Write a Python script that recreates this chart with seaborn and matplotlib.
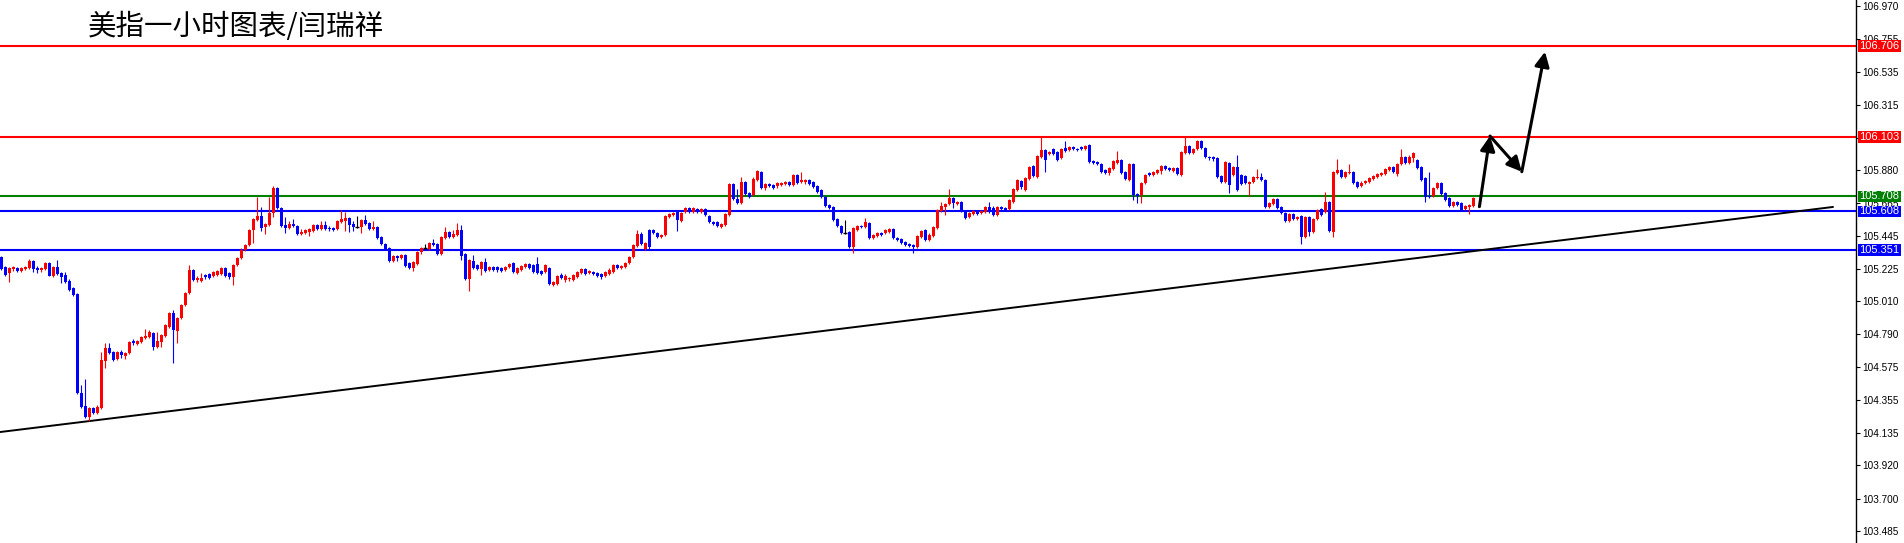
import matplotlib
matplotlib.use("Agg")
import numpy as np
import pandas as pd
import matplotlib.pyplot as plt
import matplotlib.transforms as mtransforms
from matplotlib.patches import Rectangle
import seaborn as sns

# ---- data: US dollar index, 1 hour candles ----
title = "美指一小时图表/闫瑞祥"

opens = [
    105.305, 105.238, 105.198, 105.225, 105.231, 105.212, 105.225, 105.231, 105.278, 105.231,
    105.218, 105.225, 105.265, 105.178, 105.238, 105.198, 105.185, 105.145, 105.099, 105.059,
    104.401, 104.315, 104.242, 104.302, 104.268, 104.302, 104.614, 104.700, 104.674, 104.627,
    104.674, 104.647, 104.667, 104.747, 104.727, 104.740, 104.767, 104.773, 104.800, 104.707,
    104.740, 104.780, 104.840, 104.933, 104.813, 104.899, 104.986, 105.066, 105.218, 105.152,
    105.145, 105.185, 105.192, 105.178, 105.185, 105.192, 105.231, 105.198, 105.172, 105.251,
    105.298, 105.351, 105.384, 105.484, 105.550, 105.577, 105.504, 105.517, 105.597, 105.763,
    105.630, 105.517, 105.497, 105.524, 105.511, 105.457, 105.464, 105.471, 105.477, 105.517,
    105.491, 105.517, 105.497, 105.497, 105.491, 105.537, 105.544, 105.564, 105.524, 105.504,
    105.504, 105.550, 105.531, 105.491, 105.504, 105.438, 105.391, 105.364, 105.278, 105.311,
    105.298, 105.318, 105.265, 105.231, 105.258, 105.338, 105.364, 105.358, 105.398, 105.391,
    105.325, 105.431, 105.471, 105.438, 105.451, 105.484, 105.325, 105.158, 105.278, 105.251,
    105.225, 105.271, 105.218, 105.238, 105.238, 105.231, 105.218, 105.238, 105.265, 105.198,
    105.218, 105.238, 105.258, 105.251, 105.258, 105.212, 105.205, 105.231, 105.119, 105.125,
    105.185, 105.152, 105.158, 105.152, 105.172, 105.198, 105.225, 105.198, 105.205, 105.198,
    105.192, 105.178, 105.192, 105.205, 105.251, 105.231, 105.238, 105.265, 105.305, 105.378,
    105.457, 105.358, 105.484, 105.484, 105.464, 105.438, 105.451, 105.570, 105.584, 105.604,
    105.544, 105.604, 105.630, 105.604, 105.623, 105.604, 105.623, 105.577, 105.537, 105.537,
    105.504, 105.517, 105.584, 105.789, 105.690, 105.663, 105.803, 105.730, 105.716, 105.816,
    105.869, 105.763, 105.789, 105.783, 105.776, 105.783, 105.789, 105.803, 105.783, 105.849,
    105.803, 105.803, 105.816, 105.803, 105.776, 105.750, 105.703, 105.650, 105.637, 105.557,
    105.511, 105.464, 105.471, 105.371, 105.484, 105.511, 105.504, 105.531, 105.431, 105.444,
    105.464, 105.464, 105.471, 105.491, 105.431, 105.424, 105.404, 105.391, 105.384, 105.371,
    105.438, 105.484, 105.418, 105.444, 105.497, 105.610, 105.637, 105.657, 105.696, 105.657,
    105.670, 105.610, 105.570, 105.590, 105.604, 105.597, 105.604, 105.637, 105.630, 105.584,
    105.637, 105.630, 105.623, 105.670, 105.750, 105.809, 105.750, 105.823, 105.909, 105.836,
    105.969, 106.015, 105.989, 106.022, 106.002, 105.962, 106.029, 106.015, 106.035, 106.022,
    106.035, 106.022, 106.049, 105.942, 105.936, 105.922, 105.883, 105.863, 105.889, 105.929,
    105.949, 105.869, 105.816, 105.922, 105.723, 105.716, 105.796, 105.863, 105.849, 105.863,
    105.876, 105.909, 105.896, 105.876, 105.896, 105.849, 105.995, 106.042, 105.995, 106.022,
    106.075, 106.029, 105.969, 105.969, 105.962, 105.843, 105.803, 105.929, 105.849, 105.902,
    105.849, 105.843, 105.789, 105.803, 105.830, 105.836, 105.816, 105.637, 105.657, 105.690,
    105.637, 105.597, 105.544, 105.590, 105.557, 105.577, 105.438, 105.570, 105.471, 105.557,
    105.623, 105.604, 105.670, 105.471, 105.863, 105.883, 105.836, 105.863, 105.869, 105.803,
    105.776, 105.796, 105.803, 105.823, 105.836, 105.849, 105.856, 105.883, 105.902, 105.856,
    105.922, 105.969, 105.929, 105.962, 105.949, 105.902, 105.830, 105.710, 105.710, 105.763,
    105.796, 105.730, 105.696, 105.643, 105.670, 105.663, 105.623, 105.637, 105.643,
]

highs = [
    105.311, 105.245, 105.238, 105.245, 105.238, 105.238, 105.245, 105.291, 105.285, 105.245,
    105.238, 105.271, 105.271, 105.245, 105.285, 105.205, 105.205, 105.158, 105.105, 105.066,
    104.454, 104.494, 104.308, 104.308, 104.322, 104.674, 104.733, 104.733, 104.680, 104.680,
    104.687, 104.674, 104.747, 104.760, 104.753, 104.780, 104.826, 104.820, 104.806, 104.806,
    104.793, 104.860, 104.939, 104.953, 104.906, 104.992, 105.072, 105.251, 105.225, 105.178,
    105.198, 105.192, 105.198, 105.212, 105.218, 105.238, 105.238, 105.205, 105.258, 105.305,
    105.364, 105.391, 105.491, 105.564, 105.703, 105.637, 105.531, 105.703, 105.776, 105.770,
    105.637, 105.570, 105.544, 105.557, 105.517, 105.491, 105.491, 105.497, 105.524, 105.524,
    105.544, 105.544, 105.511, 105.504, 105.550, 105.617, 105.604, 105.570, 105.544, 105.577,
    105.557, 105.584, 105.537, 105.544, 105.511, 105.444, 105.398, 105.371, 105.318, 105.318,
    105.325, 105.325, 105.271, 105.278, 105.345, 105.371, 105.391, 105.404, 105.424, 105.398,
    105.444, 105.504, 105.477, 105.484, 105.531, 105.517, 105.331, 105.291, 105.318, 105.258,
    105.278, 105.298, 105.245, 105.245, 105.245, 105.238, 105.245, 105.265, 105.271, 105.238,
    105.251, 105.265, 105.265, 105.258, 105.305, 105.218, 105.258, 105.238, 105.145, 105.185,
    105.198, 105.192, 105.172, 105.192, 105.212, 105.231, 105.231, 105.218, 105.212, 105.205,
    105.198, 105.212, 105.231, 105.258, 105.258, 105.251, 105.271, 105.311, 105.391, 105.484,
    105.471, 105.404, 105.491, 105.491, 105.471, 105.457, 105.584, 105.597, 105.604, 105.610,
    105.604, 105.637, 105.637, 105.637, 105.630, 105.630, 105.630, 105.584, 105.544, 105.544,
    105.531, 105.597, 105.796, 105.796, 105.756, 105.836, 105.809, 105.736, 105.836, 105.883,
    105.876, 105.796, 105.796, 105.789, 105.803, 105.803, 105.809, 105.809, 105.856, 105.856,
    105.869, 105.823, 105.823, 105.809, 105.783, 105.756, 105.710, 105.657, 105.643, 105.564,
    105.517, 105.550, 105.477, 105.504, 105.517, 105.517, 105.564, 105.537, 105.457, 105.471,
    105.471, 105.491, 105.497, 105.497, 105.438, 105.431, 105.411, 105.398, 105.391, 105.451,
    105.484, 105.491, 105.464, 105.511, 105.623, 105.670, 105.663, 105.756, 105.703, 105.677,
    105.677, 105.617, 105.604, 105.617, 105.610, 105.617, 105.643, 105.670, 105.643, 105.643,
    105.643, 105.637, 105.690, 105.763, 105.823, 105.816, 105.836, 105.909, 105.916, 105.982,
    106.102, 106.022, 106.009, 106.029, 106.009, 106.029, 106.075, 106.042, 106.042, 106.029,
    106.042, 106.049, 106.055, 105.949, 105.942, 105.929, 105.889, 105.902, 105.949, 106.009,
    105.956, 105.876, 105.929, 105.929, 105.730, 105.803, 105.856, 105.869, 105.876, 105.889,
    105.916, 105.916, 105.902, 105.902, 105.902, 106.009, 106.102, 106.049, 106.029, 106.082,
    106.082, 106.035, 105.975, 105.975, 105.969, 105.849, 105.942, 105.936, 105.909, 105.982,
    105.856, 105.849, 105.809, 105.843, 105.889, 105.863, 105.823, 105.670, 105.696, 105.696,
    105.643, 105.604, 105.597, 105.597, 105.577, 105.584, 105.577, 105.577, 105.564, 105.623,
    105.630, 105.736, 105.677, 105.876, 105.956, 105.889, 105.876, 105.922, 105.876, 105.809,
    105.809, 105.816, 105.836, 105.849, 105.863, 105.869, 105.896, 105.909, 105.909, 105.929,
    106.022, 105.975, 105.982, 106.002, 105.956, 105.909, 105.836, 105.869, 105.770, 105.803,
    105.803, 105.736, 105.703, 105.677, 105.677, 105.670, 105.650, 105.657, 105.703,
]

lows = [
    105.218, 105.178, 105.139, 105.212, 105.205, 105.205, 105.218, 105.225, 105.205, 105.198,
    105.205, 105.218, 105.178, 105.172, 105.185, 105.132, 105.132, 105.079, 105.046, 104.394,
    104.302, 104.235, 104.215, 104.262, 104.262, 104.295, 104.567, 104.660, 104.614, 104.621,
    104.634, 104.627, 104.660, 104.720, 104.720, 104.733, 104.760, 104.767, 104.687, 104.700,
    104.707, 104.773, 104.833, 104.601, 104.733, 104.893, 104.979, 105.059, 105.145, 105.139,
    105.139, 105.158, 105.158, 105.172, 105.178, 105.185, 105.172, 105.158, 105.119, 105.245,
    105.291, 105.345, 105.378, 105.398, 105.544, 105.477, 105.457, 105.511, 105.570, 105.623,
    105.504, 105.464, 105.491, 105.504, 105.451, 105.451, 105.457, 105.444, 105.471, 105.484,
    105.484, 105.484, 105.477, 105.477, 105.484, 105.531, 105.477, 105.471, 105.477, 105.497,
    105.464, 105.517, 105.484, 105.484, 105.424, 105.384, 105.351, 105.271, 105.271, 105.278,
    105.291, 105.238, 105.225, 105.212, 105.251, 105.325, 105.358, 105.351, 105.378, 105.318,
    105.318, 105.424, 105.431, 105.431, 105.444, 105.285, 105.152, 105.079, 105.225, 105.218,
    105.185, 105.205, 105.212, 105.212, 105.205, 105.205, 105.212, 105.231, 105.198, 105.192,
    105.212, 105.231, 105.225, 105.198, 105.192, 105.185, 105.198, 105.119, 105.112, 105.119,
    105.158, 105.139, 105.145, 105.145, 105.165, 105.192, 105.185, 105.192, 105.185, 105.172,
    105.158, 105.172, 105.185, 105.198, 105.225, 105.225, 105.231, 105.258, 105.298, 105.371,
    105.384, 105.351, 105.351, 105.457, 105.431, 105.431, 105.444, 105.564, 105.577, 105.477,
    105.537, 105.597, 105.597, 105.597, 105.597, 105.597, 105.577, 105.531, 105.517, 105.504,
    105.497, 105.511, 105.577, 105.683, 105.657, 105.657, 105.716, 105.696, 105.710, 105.809,
    105.756, 105.750, 105.770, 105.756, 105.763, 105.776, 105.783, 105.776, 105.776, 105.789,
    105.796, 105.789, 105.783, 105.763, 105.730, 105.696, 105.637, 105.623, 105.544, 105.504,
    105.457, 105.457, 105.364, 105.331, 105.477, 105.497, 105.497, 105.424, 105.424, 105.438,
    105.444, 105.457, 105.464, 105.424, 105.411, 105.391, 105.378, 105.371, 105.331, 105.364,
    105.431, 105.411, 105.411, 105.438, 105.491, 105.604, 105.584, 105.650, 105.630, 105.650,
    105.604, 105.557, 105.564, 105.584, 105.584, 105.590, 105.597, 105.597, 105.577, 105.577,
    105.617, 105.610, 105.617, 105.663, 105.743, 105.756, 105.743, 105.816, 105.836, 105.830,
    105.962, 105.869, 105.982, 105.982, 105.942, 105.956, 106.002, 106.009, 106.015, 106.009,
    106.015, 106.015, 105.929, 105.922, 105.916, 105.863, 105.856, 105.849, 105.883, 105.922,
    105.856, 105.816, 105.809, 105.683, 105.663, 105.663, 105.789, 105.843, 105.843, 105.856,
    105.856, 105.883, 105.876, 105.869, 105.849, 105.843, 105.989, 105.989, 105.989, 106.015,
    106.022, 105.962, 105.949, 105.942, 105.830, 105.796, 105.796, 105.730, 105.843, 105.743,
    105.783, 105.789, 105.710, 105.796, 105.823, 105.809, 105.630, 105.630, 105.650, 105.623,
    105.590, 105.537, 105.537, 105.550, 105.550, 105.391, 105.431, 105.444, 105.464, 105.550,
    105.577, 105.597, 105.471, 105.438, 105.856, 105.830, 105.830, 105.856, 105.789, 105.763,
    105.770, 105.789, 105.796, 105.816, 105.830, 105.843, 105.849, 105.876, 105.863, 105.843,
    105.916, 105.922, 105.922, 105.936, 105.889, 105.809, 105.670, 105.696, 105.703, 105.756,
    105.716, 105.677, 105.637, 105.637, 105.643, 105.610, 105.617, 105.590, 105.637,
]

closes = [
    105.225, 105.185, 105.231, 105.238, 105.212, 105.231, 105.238, 105.278, 105.225, 105.218,
    105.231, 105.265, 105.178, 105.238, 105.192, 105.172, 105.139, 105.086, 105.052, 104.401,
    104.308, 104.242, 104.302, 104.268, 104.308, 104.621, 104.700, 104.667, 104.621, 104.674,
    104.654, 104.667, 104.740, 104.733, 104.747, 104.773, 104.780, 104.806, 104.707, 104.747,
    104.787, 104.853, 104.933, 104.820, 104.899, 104.986, 105.066, 105.218, 105.152, 105.165,
    105.165, 105.172, 105.165, 105.205, 105.212, 105.231, 105.178, 105.172, 105.251, 105.298,
    105.351, 105.384, 105.484, 105.557, 105.577, 105.497, 105.524, 105.597, 105.763, 105.630,
    105.511, 105.497, 105.524, 105.511, 105.457, 105.471, 105.484, 105.491, 105.517, 105.491,
    105.517, 105.491, 105.491, 105.484, 105.544, 105.557, 105.564, 105.517, 105.504, 105.504,
    105.550, 105.524, 105.491, 105.504, 105.431, 105.391, 105.358, 105.278, 105.311, 105.298,
    105.318, 105.245, 105.231, 105.271, 105.338, 105.364, 105.364, 105.398, 105.384, 105.325,
    105.438, 105.471, 105.438, 105.457, 105.484, 105.311, 105.158, 105.285, 105.231, 105.225,
    105.271, 105.212, 105.238, 105.218, 105.218, 105.212, 105.238, 105.258, 105.205, 105.231,
    105.245, 105.258, 105.231, 105.205, 105.198, 105.192, 105.251, 105.125, 105.139, 105.178,
    105.165, 105.178, 105.165, 105.185, 105.205, 105.225, 105.192, 105.212, 105.192, 105.178,
    105.172, 105.205, 105.218, 105.251, 105.231, 105.245, 105.265, 105.305, 105.384, 105.457,
    105.391, 105.398, 105.371, 105.464, 105.438, 105.451, 105.577, 105.590, 105.597, 105.550,
    105.597, 105.630, 105.604, 105.630, 105.604, 105.623, 105.584, 105.537, 105.524, 105.511,
    105.524, 105.590, 105.789, 105.690, 105.663, 105.803, 105.723, 105.703, 105.823, 105.876,
    105.763, 105.789, 105.776, 105.763, 105.796, 105.796, 105.803, 105.783, 105.849, 105.796,
    105.816, 105.816, 105.789, 105.770, 105.736, 105.703, 105.643, 105.630, 105.550, 105.511,
    105.464, 105.464, 105.371, 105.497, 105.511, 105.504, 105.537, 105.431, 105.451, 105.464,
    105.451, 105.484, 105.491, 105.431, 105.418, 105.398, 105.384, 105.378, 105.371, 105.444,
    105.477, 105.418, 105.451, 105.504, 105.617, 105.643, 105.657, 105.696, 105.663, 105.670,
    105.610, 105.564, 105.597, 105.610, 105.590, 105.610, 105.637, 105.604, 105.584, 105.637,
    105.623, 105.617, 105.683, 105.756, 105.816, 105.770, 105.830, 105.902, 105.843, 105.975,
    106.015, 105.949, 106.002, 105.989, 105.949, 106.022, 106.009, 106.035, 106.022, 106.015,
    106.022, 106.042, 105.936, 105.929, 105.922, 105.869, 105.863, 105.896, 105.942, 105.949,
    105.863, 105.823, 105.922, 105.716, 105.710, 105.796, 105.849, 105.849, 105.869, 105.883,
    105.909, 105.889, 105.883, 105.896, 105.856, 106.002, 106.042, 105.995, 106.022, 106.075,
    106.029, 105.969, 105.962, 105.956, 105.836, 105.803, 105.936, 105.783, 105.902, 105.750,
    105.789, 105.796, 105.803, 105.836, 105.836, 105.816, 105.637, 105.663, 105.690, 105.630,
    105.597, 105.544, 105.590, 105.557, 105.570, 105.438, 105.570, 105.471, 105.557, 105.617,
    105.584, 105.670, 105.477, 105.869, 105.883, 105.836, 105.869, 105.869, 105.796, 105.770,
    105.796, 105.809, 105.830, 105.843, 105.856, 105.863, 105.889, 105.902, 105.869, 105.922,
    105.969, 105.929, 105.969, 105.995, 105.896, 105.816, 105.703, 105.703, 105.763, 105.796,
    105.723, 105.683, 105.643, 105.670, 105.650, 105.617, 105.643, 105.650, 105.696,
]

# support / resistance levels drawn on the chart
level_prices = [106.706, 106.103, 105.708, 105.608, 105.351]
level_colors = ["#ff0000", "#ff0000", "#008000", "#0000ff", "#0000ff"]

# rising trend line (bar index, price)
trend_x = [-0.25, 458]
trend_y = [104.142, 105.637]

# projected path drawn with arrows (bar index, price)
path_x = [369.6, 372.25, 380.2, 386.0]
path_y = [105.639, 106.108, 105.871, 106.668]

tick_labels = ["103.485", "103.700", "103.920", "104.135", "104.355", "104.575",
               "104.790", "105.010", "105.225", "105.445", "105.665", "105.880",
               "106.095", "106.315", "106.535", "106.755", "106.970"]

# ---- build frame ----
n = min(len(opens), len(highs), len(lows), len(closes))
df = pd.DataFrame({"open": opens[:n], "high": highs[:n], "low": lows[:n], "close": closes[:n]})
df["idx"] = np.arange(n)
df["color"] = np.where(df["close"] > df["open"], "#ff0000",
                       np.where(df["close"] < df["open"], "#0000ff", "#000000"))

sns.set_style("white")
plt.rcParams["font.family"] = ["Noto Sans CJK SC", "DejaVu Sans"]

fig = plt.figure(figsize=(19.04, 5.43), dpi=100)
ax = fig.add_axes([0, 0, 1856 / 1904, 1])

# candles
ax.vlines(df["idx"], df["low"], df["high"], colors=df["color"], linewidth=0.8, zorder=3)
body = df[df["open"] != df["close"]]
ax.bar(body["idx"], (body["close"] - body["open"]).abs(),
       bottom=body[["open", "close"]].min(axis=1), width=0.75,
       color=body["color"], linewidth=0, antialiased=False, zorder=3)
doji = df[df["open"] == df["close"]]
ax.hlines(doji["open"], doji["idx"] - 0.45, doji["idx"] + 0.45, colors="black", linewidth=1, zorder=3)

# horizontal levels
for p, c in zip(level_prices, level_colors):
    ax.axhline(p, color=c, linewidth=1.5, zorder=2)

# trend line
sns.lineplot(x=trend_x, y=trend_y, ax=ax, color="black", linewidth=1.4, zorder=2)

# arrows
for k in range(len(path_x) - 1):
    ax.annotate("", xy=(path_x[k + 1], path_y[k + 1]), xytext=(path_x[k], path_y[k]),
                arrowprops=dict(arrowstyle="-|>", color="black", lw=2.2,
                                mutation_scale=22, shrinkA=0, shrinkB=0), zorder=4)

ax.set_xlim(-0.25, 463.75)
ax.set_ylim(103.405, 107.0116)
ax.set_xticks([])
ax.set_yticks([float(t) for t in tick_labels])
ax.set_yticklabels(tick_labels)
ax.yaxis.tick_right()
ax.tick_params(axis="y", direction="out", length=3, width=0.8, pad=1.5,
               labelsize=7.2, colors="black", right=True, left=False)
for lab in ax.get_yticklabels():
    lab.set_fontfamily("Liberation Sans")
for side in ["left", "top", "bottom"]:
    ax.spines[side].set_visible(False)
ax.spines["right"].set_color("black")
ax.spines["right"].set_linewidth(1)

# price boxes on the axis
trans = mtransforms.blended_transform_factory(ax.transAxes, ax.transData)
for p, c in zip(level_prices, level_colors):
    ax.add_patch(Rectangle((1.0011, p - 0.038), 0.0232, 0.076, transform=trans,
                           facecolor=c, edgecolor="none", clip_on=False, zorder=6))
    ax.text(1.0127, p, f"{p:.3f}", transform=trans, ha="center", va="center",
            color="white", fontsize=8, fontfamily="Liberation Sans",
            clip_on=False, zorder=7)

fig.text(88 / 1904, 1 - 27 / 543, title, fontsize=20.5, ha="left", va="center", color="black")

fig.savefig("out.png", dpi=100)
